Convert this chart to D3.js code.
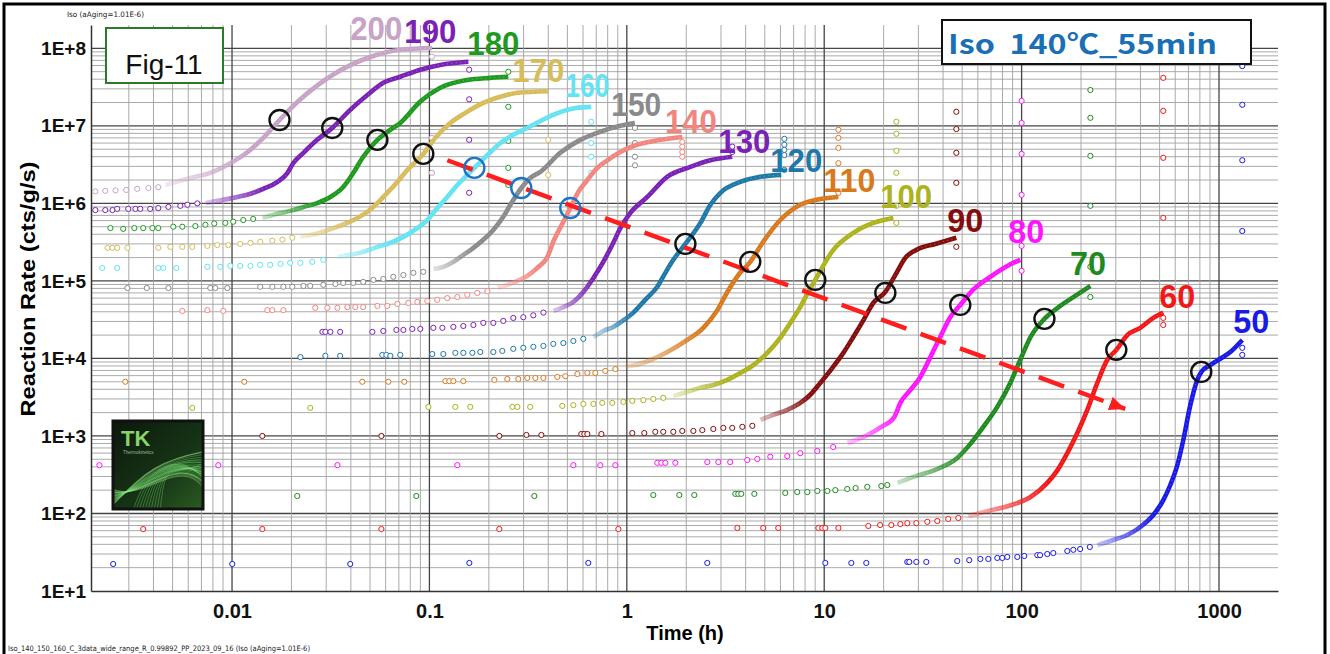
<!DOCTYPE html>
<html>
<head>
<meta charset="utf-8">
<script src="https://cdn.jsdelivr.net/npm/d3@7"></script>
<style>
  body { margin: 0; background: #fff; }
  svg { display: block; font-family: Arial, 'Liberation Sans', sans-serif; }
</style>
</head>
<body>
<svg width="1330" height="654"></svg>
<script>
var svg = d3.select('svg')

// isothermal temperatures (deg C), one curve each
var temps = [200, 190, 180, 170, 160, 150, 140, 130, 120, 110, 100, 90, 80, 70, 60, 50]
var colors = ['#c8a3c8', '#7b22b6', '#1f9a1f', '#d8bc5a', '#63e3f3', '#8a8a8a', '#f2867f', '#7b22b6',
  '#1f78aa', '#d9791d', '#acb31c', '#840d0d', '#ff14ff', '#1f8a1f', '#f21818', '#1a1ae6']

// sparse early points [time h, rate cts/g/s]
var earlyPts = [
  [[0.00203,1.43e6],[0.00228,1.45e6],[0.00257,1.47e6],[0.00291,1.49e6],[0.00331,1.54e6],[0.00377,1.58e6],[0.00423,1.62e6]],
  [[0.00203,8.2e5],[0.00228,8.2e5],[0.00248,8.2e5],[0.00262,8.5e5],[0.00298,8.5e5],[0.00324,8.5e5],[0.00343,8.5e5],[0.00385,8.5e5],[0.00423,8.7e5],[0.00476,9.0e5],[0.00547,9.3e5],[0.00594,9.6e5],[0.00667,1.0e6]],
  [[0.00242,4.8e5],[0.00281,4.69e5],[0.0032,4.8e5],[0.00355,4.8e5],[0.00395,4.8e5],[0.00423,4.8e5],[0.00504,5.0e5],[0.0056,5.0e5],[0.00652,5.1e5],[0.00733,5.3e5],[0.00813,5.5e5],[0.00925,5.6e5],[0.01015,5.8e5],[0.0114,6.1e5],[0.0128,6.3e5]],
  [[0.00234,2.67e5],[0.00248,2.67e5],[0.00262,2.67e5],[0.00295,2.67e5],[0.00423,2.67e5],[0.00487,2.75e5],[0.0056,2.75e5],[0.00629,2.75e5],[0.0075,2.83e5],[0.00842,2.9e5],[0.00958,2.9e5],[0.011,3.0e5],[0.0124,3.1e5],[0.0139,3.2e5],[0.016,3.3e5],[0.018,3.4e5],[0.0202,3.6e5]],
  [[0.0022,1.47e5],[0.00262,1.47e5],[0.00423,1.47e5],[0.00449,1.47e5],[0.00522,1.47e5],[0.0075,1.52e5],[0.00872,1.52e5],[0.0098,1.56e5],[0.011,1.56e5],[0.0124,1.56e5],[0.0139,1.61e5],[0.0156,1.61e5],[0.0176,1.66e5],[0.0197,1.71e5],[0.0222,1.71e5],[0.0255,1.76e5],[0.029,1.87e5]],
  [[0.00295,8.1e4],[0.0037,8.1e4],[0.00476,8.1e4],[0.00776,8.1e4],[0.00823,8.1e4],[0.00947,8.1e4],[0.0139,8.4e4],[0.016,8.4e4],[0.0182,8.4e4],[0.0202,8.4e4],[0.023,8.6e4],[0.0249,8.6e4],[0.029,8.9e4],[0.0334,9.1e4],[0.0366,9.4e4],[0.0412,9.4e4],[0.0462,9.7e4],[0.052,1.03e5],[0.0584,1.06e5],[0.0656,1.13e5],[0.0738,1.19e5],[0.0829,1.27e5],[0.0931,1.31e5]],
  [[0.0056,4.1e4],[0.0075,4.2e4],[0.00903,4.1e4],[0.0151,4.2e4],[0.016,4.2e4],[0.0182,4.2e4],[0.0264,4.5e4],[0.0304,4.5e4],[0.0342,4.5e4],[0.0384,4.6e4],[0.0421,4.6e4],[0.0462,4.6e4],[0.0545,4.75e4],[0.0612,4.75e4],[0.0688,5.05e4],[0.0781,5.2e4],[0.0868,5.36e4],[0.0976,5.5e4],[0.1096,5.7e4],[0.1232,6.0e4],[0.1385,6.2e4],[0.1556,6.6e4],[0.1748,7.0e4],[0.1965,7.4e4]],
  [[0.0287,2.2e4],[0.0297,2.2e4],[0.0315,2.2e4],[0.0353,2.2e4],[0.0514,2.2e4],[0.0584,2.26e4],[0.068,2.33e4],[0.0738,2.33e4],[0.0819,2.4e4],[0.0899,2.4e4],[0.1047,2.48e4],[0.1163,2.48e4],[0.1322,2.55e4],[0.1485,2.62e4],[0.167,2.7e4],[0.1875,2.87e4],[0.2107,2.87e4],[0.2367,3.05e4],[0.266,3.33e4],[0.299,3.4e4],[0.336,3.6e4],[0.378,3.9e4]],
  [[0.0222,1.04e4],[0.0297,1.08e4],[0.0353,1.08e4],[0.0577,1.11e4],[0.0605,1.11e4],[0.0634,1.08e4],[0.0712,1.11e4],[0.1034,1.14e4],[0.1176,1.14e4],[0.1353,1.18e4],[0.1485,1.18e4],[0.165,1.18e4],[0.181,1.21e4],[0.2107,1.21e4],[0.234,1.25e4],[0.266,1.33e4],[0.299,1.37e4],[0.336,1.41e4],[0.378,1.45e4],[0.424,1.54e4],[0.477,1.58e4],[0.536,1.68e4],[0.602,1.79e4]],
  [[0.00288,5.0e3],[0.01154,5.0e3],[0.0457,5.0e3],[0.0619,5.0e3],[0.0746,5.0e3],[0.1204,5.1e3],[0.1261,5.1e3],[0.1322,5.1e3],[0.1485,5.1e3],[0.2132,5.3e3],[0.248,5.43e3],[0.282,5.43e3],[0.313,5.6e3],[0.344,5.6e3],[0.378,5.6e3],[0.4445,5.77e3],[0.488,5.9e3],[0.5615,6.3e3],[0.631,6.5e3],[0.6925,6.5e3],[0.778,6.9e3],[0.8745,7.3e3]],
  [[0.00629,2.3e3],[0.0249,2.3e3],[0.0988,2.37e3],[0.1353,2.37e3],[0.161,2.37e3],[0.263,2.37e3],[0.279,2.37e3],[0.324,2.37e3],[0.471,2.44e3],[0.536,2.5e3],[0.602,2.59e3],[0.677,2.59e3],[0.751,2.67e3],[0.844,2.67e3],[0.96,2.75e3],[1.066,2.83e3],[1.212,2.9e3],[1.362,3.0e3],[1.53,3.1e3]],
  [[0.01424,1.0e3],[0.0571,1.0e3],[0.226,1.0e3],[0.31,1.03e3],[0.369,1.03e3],[0.588,1.06e3],[0.609,1.06e3],[0.631,1.06e3],[0.743,1.06e3],[1.066,1.09e3],[1.226,1.09e3],[1.394,1.13e3],[1.53,1.13e3],[1.72,1.13e3],[1.91,1.16e3],[2.173,1.16e3],[2.413,1.19e3],[2.743,1.23e3],[3.083,1.27e3],[3.42,1.27e3],[3.847,1.31e3],[4.323,1.35e3]],
  [[0.00213,4.2e2],[0.00852,4.2e2],[0.0342,4.2e2],[0.1385,4.2e2],[0.536,4.2e2],[0.734,4.2e2],[0.8745,4.2e2],[1.427,4.5e2],[1.496,4.5e2],[1.567,4.5e2],[1.761,4.5e2],[2.557,4.6e2],[2.908,4.6e2],[3.34,4.6e2],[4.077,4.9e2],[4.583,5.05e2],[5.33,5.4e2],[6.5,5.5e2],[7.56,6.0e2],[9.23,6.4e2],[11.1,7.2e2]],
  [[0.0214,1.68e2],[0.0858,1.68e2],[0.34,1.68e2],[1.362,1.73e2],[1.845,1.73e2],[2.197,1.73e2],[3.545,1.79e2],[3.67,1.79e2],[3.8,1.79e2],[4.426,1.79e2],[6.35,1.84e2],[7.3,1.89e2],[8.21,1.89e2],[9.23,1.95e2],[10.37,1.95e2],[11.38,2.0e2],[13.09,2.07e2],[14.42,2.13e2],[16.53,2.2e2],[19.47,2.26e2],[20.87,2.33e2]],
  [[0.00355,63],[0.01424,63],[0.0571,63],[0.226,63],[0.906,63],[3.63,65],[4.91,65],[5.85,65],[9.34,65],[9.78,65],[10.13,65],[11.8,65],[16.73,69],[19.2,71],[21.88,71],[24.3,73],[26.36,75],[29.28,75],[33.3,78],[37.4,80],[42.5,85],[47.8,87.5]],
  [[0.0025,22.3],[0.01003,22.3],[0.0397,22.3],[0.1593,23],[0.638,23],[2.557,23],[10.13,23],[13.72,23],[16.34,23],[26.36,23.7],[26.98,23.7],[29.28,23.7],[32.9,23.7],[47.2,24.4],[54.3,25],[61.8,25.9],[67.8,25.9],[75.3,26.7],[79.8,26.7],[84.6,27.5],[95.1,27.5],[103.2,28.3],[120.1,29],[124,29],[134.9,30],[144.7,30.9],[170.4,32.8],[182.8,34],[198,34.8],[221.6,37]]
]

// dense part of each curve [time h, rate]
var densePts = [
  [[0.00459,1.73e6],[0.00615,2.13e6],[0.00776,2.48e6],[0.0098,3.3e6],[0.012,4.6e6],[0.0144,7.0e6],[0.0174,1.19e7],[0.0222,2.2e7],[0.0326,4.6e7],[0.0485,7.5e7],[0.0712,9.6e7],[0.103,1.01e8]],
  [[0.00732,1.01e6],[0.00903,1.11e6],[0.01064,1.21e6],[0.0124,1.33e6],[0.0144,1.54e6],[0.017,1.89e6],[0.0191,2.48e6],[0.0204,3.3e6],[0.023,4.49e6],[0.027,6.6e6],[0.0322,9.4e6],[0.0397,1.61e7],[0.0485,2.5e7],[0.0584,3.59e7],[0.0712,4.3e7],[0.0899,5.3e7],[0.1135,6.1e7],[0.1575,6.7e7]],
  [[0.01424,6.5e5],[0.0176,7.5e5],[0.0197,8.0e5],[0.023,9.0e5],[0.027,1.01e6],[0.0315,1.21e6],[0.0366,1.63e6],[0.0412,2.48e6],[0.0462,4.0e6],[0.0545,6.6e6],[0.0634,8.9e6],[0.0712,1.09e7],[0.0899,2.06e7],[0.1135,3.1e7],[0.1556,3.9e7],[0.203,4.16e7],[0.251,4.3e7]],
  [[0.0222,3.7e5],[0.0249,3.9e5],[0.029,4.3e5],[0.0342,5.0e5],[0.0412,6.1e5],[0.0485,7.8e5],[0.0545,1.01e6],[0.0612,1.37e6],[0.0688,1.89e6],[0.0773,2.7e6],[0.0868,3.6e6],[0.0931,4.35e6],[0.1071,7.0e6],[0.1276,1.09e7],[0.152,1.47e7],[0.1875,1.98e7],[0.229,2.37e7],[0.279,2.67e7],[0.40,2.8e7]],
  [[0.0342,2.04e5],[0.0397,2.17e5],[0.0462,2.37e5],[0.0545,2.75e5],[0.0634,3.1e5],[0.0738,3.7e5],[0.0868,4.8e5],[0.0976,6.1e5],[0.1096,8.7e5],[0.1232,1.21e6],[0.1385,1.73e6],[0.1556,2.33e6],[0.1689,2.87e6],[0.1965,4.2e6],[0.229,6.0e6],[0.266,7.7e6],[0.313,9.4e6],[0.424,1.39e7],[0.56,1.71e7],[0.66,1.76e7]],
  [[0.1047,1.43e5],[0.1176,1.52e5],[0.1322,1.76e5],[0.1485,2.17e5],[0.167,2.67e5],[0.1875,3.4e5],[0.2107,4.55e5],[0.2367,6.7e5],[0.257,9.6e5],[0.292,1.58e6],[0.324,2.13e6],[0.365,2.55e6],[0.46,4.49e6],[0.581,6.6e6],[0.734,8.4e6],[0.927,1.0e7],[1.10,1.09e7]],
  [[0.2208,8.1e4],[0.248,8.9e4],[0.279,1.0e5],[0.313,1.16e5],[0.352,1.47e5],[0.396,2.04e5],[0.424,3.2e5],[0.477,5.8e5],[0.517,8.7e5],[0.568,1.41e6],[0.631,2.0e6],[0.709,2.87e6],[0.797,3.6e6],[0.927,4.6e6],[1.079,5.5e6],[1.48,6.6e6],[1.91,7.2e6]],
  [[0.424,4.1e4],[0.477,4.6e4],[0.536,5.36e4],[0.602,7.2e4],[0.677,1.09e5],[0.76,1.76e5],[0.854,3.1e5],[0.927,4.8e5],[1.04,7.5e5],[1.27,1.21e6],[1.60,2.2e6],[2.10,2.96e6],[2.65,3.6e6],[3.42,4.0e6]],
  [[0.677,1.89e4],[0.76,2.26e4],[0.854,2.55e4],[0.96,3.1e4],[1.079,3.9e4],[1.24,5.7e4],[1.427,8.4e4],[1.567,1.27e5],[1.72,1.87e5],[1.98,3.0e5],[2.36,5.6e5],[2.65,9.6e5],[2.98,1.37e6],[3.76,1.89e6],[4.75,2.2e6],[6.06,2.33e6]],
  [[0.983,7.8e3],[1.24,9.0e3],[1.604,1.21e4],[2.025,1.73e4],[2.44,2.48e4],[2.874,4.2e4],[3.23,7.2e4],[3.67,1.19e5],[4.22,1.76e5],[4.91,3.2e5],[5.99,6.1e5],[7.56,9.6e5],[9.55,1.14e6],[11.8,1.21e6]],
  [[1.72,3.28e3],[2.025,3.7e3],[2.36,4.2e3],[2.743,4.55e3],[3.23,5.3e3],[3.76,6.5e3],[4.373,8.2e3],[5.148,1.18e4],[5.99,1.84e4],[6.73,2.87e4],[7.56,4.6e4],[8.31,7.2e4],[9.01,1.03e5],[11.1,2.5e5],[14.04,4.16e5],[17.73,5.6e5],[22.4,6.5e5]],
  [[4.75,1.61e3],[5.52,1.87e3],[6.5,2.17e3],[7.56,2.67e3],[8.5,3.4e3],[9.55,4.83e3],[11.1,7.8e3],[12.5,1.18e4],[14.04,1.89e4],[15.78,3.1e4],[17.73,5.2e4],[20.4,7.2e4],[22.9,1.19e5],[25.76,1.98e5],[30.0,2.59e5],[36.5,3.0e5],[46.7,3.6e5]],
  [[13.09,8.1e2],[15.78,9.7e2],[19.47,1.31e3],[22.65,1.76e3],[24.3,2.67e3],[27.3,3.9e3],[30.7,5.77e3],[34.5,1.04e4],[38.7,1.89e4],[43.5,3.4e4],[48.9,4.9e4],[56.9,7.7e4],[69.4,1.13e5],[84.6,1.56e5],[98.5,1.87e5]],
  [[23.5,2.48e2],[28.3,2.96e2],[37.4,3.75e2],[47.2,5.2e2],[55.0,7.9e2],[64.0,1.31e3],[75.3,2.37e3],[87.6,4.83e3],[98.5,9.6e3],[111,1.89e4],[130.5,3.24e4],[157,4.75e4],[187,6.4e4],[223,8.6e4]],
  [[53.7,93],[67.8,108],[85.6,125],[111,163],[134.9,248],[151.7,360],[170.4,600],[191.5,1.09e3],[215.2,2.17e3],[241.8,4.83e3],[271.8,9.6e3],[301.8,1.29e4],[343.1,2.0e4],[399.3,2.48e4],[464.7,3.33e4],[522.3,3.9e4]],
  [[241.8,39],[291.4,45.5],[343.1,52.8],[399.3,67],[464.7,95.7],[522.3,149],[566.8,233],[615,420],[659.6,890],[715.5,2.5e3],[776.6,5.3e3],[813.4,6.7e3],[903.6,8.2e3],[1015,9.9e3],[1141,1.21e4],[1312,1.73e4]]
]

// scattered points at the last time of each run
var tailTime = [0.103, 0.159, 0.251, 0.40, 0.66, 1.10, 1.91, 3.42, 6.28, 11.8, 23.2, 46.7, 100, 223, 522, 1312]
var tailRates = [
  [7.8e7, 2.75e7, 7.0e6, 2.48e6],
  [5.3e7, 2.2e7, 6.6e6, 1.37e6],
  [4.98e7, 1.76e7, 6.4e6, 2.87e6, 1.73e6],
  [6.6e6, 2.33e6],
  [1.13e7, 6.0e6, 4.0e6, 2.48e6],
  [9.4e6, 6.0e6, 4.0e6, 3.1e6],
  [6.2e6, 5.4e6, 4.6e6, 4.0e6],
  [5.4e6, 4.6e6],
  [6.8e6, 5.7e6, 4.9e6, 4.2e6, 2.7e6],
  [8.9e6, 7.0e6, 5.2e6, 3.3e6, 1.37e6],
  [1.13e7, 7.9e6, 4.75e6, 2.48e6, 9.3e5, 5.6e5],
  [1.52e7, 9.1e6, 4.49e6, 1.84e6, 2.75e5],
  [2.1e7, 1.09e7, 4.35e6, 1.29e6, 2.83e5, 1.35e5],
  [2.9e7, 1.27e7, 4.1e6, 9.3e5, 1.52e5, 6.2e4],
  [4.16e7, 1.56e7, 3.87e6, 6.5e5, 3.33e4, 2.7e4],
  [5.9e7, 1.87e7, 3.6e6, 4.4e5, 1.37e4, 1.11e4]
]

// circled points (null = none), blue ones for 160/150/140
var circled = [[0.0174,1.19e7],[0.0322,9.4e6],[0.0545,6.6e6],[0.0931,4.35e6],[0.1689,2.87e6],[0.292,1.58e6],[0.517,8.7e5],null,
  [1.98,3.0e5],[4.22,1.76e5],[9.01,1.03e5],[20.4,7.0e4],[48.9,4.9e4],[130.5,3.24e4],[301.8,1.29e4],[813,6.7e3]]
var blueCircled = [160, 150, 140]

// where each temperature label sits (left edge, baseline)
var labelAt = [[0.0397,1.29e8],[0.0746,1.18e8],[0.1556,8.2e7],[0.263,3.7e7],[0.488,2.37e7],[0.834,1.35e7],[1.56,8.1e6],[2.908,4.49e6],
  [5.33,2.55e6],[9.9,1.41e6],[19.2,8.7e5],[42.0,4.3e5],[85.6,3.1e5],[176,1.19e5],[498,4.5e4],[1181,2.13e4]]

// dashed trend arrow through the circled points
var trendArrow = [[0.1232, 3.6e6], [335, 2.23e3]]

var xTicks = [0.01, 0.1, 1, 10, 100, 1000]
var yTicks = [1e1, 1e2, 1e3, 1e4, 1e5, 1e6, 1e7, 1e8]

var x = d3.scaleLog().domain([0.00193, 1990]).range([91, 1278])
var y = d3.scaleLog().domain([10, 2e8]).range([591, 25])

var defs = svg.append('defs')

// outer frame
svg.append('rect').attr('x', 4).attr('y', 4).attr('width', 1321).attr('height', 660)
  .attr('fill', 'none').attr('stroke', '#000').attr('stroke-width', 3)

// grid
var grid = svg.append('g')
var xGrid = [], yGrid = []
for (var e = -3; e <= 3; e++) for (var k = 1; k <= 9; k++) xGrid.push({ v: +(k + 'e' + e), major: k === 1 })
for (var e2 = 1; e2 <= 8; e2++) for (var k2 = 1; k2 <= 9; k2++) yGrid.push({ v: +(k2 + 'e' + e2), major: k2 === 1 })
xGrid = xGrid.filter(d => d.v > 0.0021 && d.v < 1900)
yGrid = yGrid.filter(d => d.v > 10 && d.v <= 1e8)

grid.selectAll('.hg').data(yGrid).enter().append('line')
  .attr('x1', 91).attr('x2', 1278)
  .attr('y1', d => y(d.v)).attr('y2', d => y(d.v))
  .attr('stroke', d => d.major ? '#454545' : '#a0a0a0')
  .attr('stroke-width', d => d.major ? 1.3 : 0.9)
grid.selectAll('.vg').data(xGrid).enter().append('line')
  .attr('y1', 25).attr('y2', 591)
  .attr('x1', d => x(d.v)).attr('x2', d => x(d.v))
  .attr('stroke', d => d.major ? '#454545' : '#a0a0a0')
  .attr('stroke-width', d => d.major ? 1.3 : 0.9)

// axes
var xAxis = svg.append('g').attr('transform', 'translate(0,591)')
  .call(d3.axisBottom(x).tickValues(xTicks).tickFormat(d => String(d)).tickSize(0).tickPadding(13))
var yAxis = svg.append('g').attr('transform', 'translate(91,0)')
  .call(d3.axisLeft(y).tickValues(yTicks).tickFormat(d => '1E+' + Math.round(Math.log10(d))).tickSize(0).tickPadding(5))
xAxis.select('.domain').attr('stroke', '#333').attr('stroke-width', 1.5)
yAxis.select('.domain').attr('stroke', '#333').attr('stroke-width', 1.5)
xAxis.selectAll('text').attr('font-size', 20).attr('font-weight', 'bold').attr('font-family', 'Arial, Liberation Sans').attr('fill', '#111')
yAxis.selectAll('text').attr('font-size', 19).attr('font-weight', 'bold').attr('font-family', 'Arial, Liberation Sans').attr('fill', '#111')

svg.append('text').attr('x', 685).attr('y', 640).attr('text-anchor', 'middle')
  .attr('font-size', 20).attr('font-weight', 'bold').text('Time (h)')
svg.append('text').attr('transform', 'translate(35,289) rotate(-90)').attr('text-anchor', 'middle')
  .attr('font-size', 21).attr('font-weight', 'bold').attr('textLength', 255).attr('lengthAdjust', 'spacingAndGlyphs')
  .text('Reaction Rate (cts/g/s)')

// data
var line = d3.line().x(d => x(d[0])).y(d => y(d[1])).curve(d3.curveMonotoneX)
var plot = svg.append('g')

temps.forEach((t, i) => {
  var g = plot.append('g')
  var c = colors[i]
  var dense = densePts[i]
  // soft start of the dense band, like markers crowding together
  var x0 = x(dense[0][0]), x1 = x(dense[Math.min(4, dense.length - 1)][0])
  var grad = defs.append('linearGradient').attr('id', 'fade' + i)
    .attr('gradientUnits', 'userSpaceOnUse').attr('x1', x0).attr('x2', x1).attr('y1', 0).attr('y2', 0)
  grad.append('stop').attr('offset', '0%').attr('stop-color', c).attr('stop-opacity', 0.25)
  grad.append('stop').attr('offset', '100%').attr('stop-color', c).attr('stop-opacity', 1)

  g.selectAll('circle.early').data(earlyPts[i]).enter().append('circle')
    .attr('cx', d => x(d[0])).attr('cy', d => y(d[1])).attr('r', 2.6)
    .attr('fill', '#fff').attr('stroke', c).attr('stroke-width', 1)
  g.selectAll('circle.tail').data(tailRates[i]).enter().append('circle')
    .attr('cx', x(tailTime[i])).attr('cy', d => y(d)).attr('r', 2.6)
    .attr('fill', '#fff').attr('stroke', c).attr('stroke-width', 1)
  g.append('path').attr('d', line(dense))
    .attr('fill', 'none').attr('stroke', 'url(#fade' + i + ')').attr('stroke-width', 4.6)
    .attr('stroke-linecap', 'butt').attr('stroke-linejoin', 'round')
  g.append('path').attr('d', line(dense))
    .attr('fill', 'none').attr('stroke', '#fff').attr('stroke-width', 1)
    .attr('stroke-dasharray', '1 3.5').attr('opacity', 0.35)
})

// temperature labels
plot.selectAll('text.temp').data(temps).enter().append('text')
  .attr('x', (d, i) => x(labelAt[i][0])).attr('y', (d, i) => y(labelAt[i][1]))
  .attr('font-size', 34).attr('font-weight', 'bold')
  .attr('fill', (d, i) => colors[i])
  .attr('textLength', d => d === 160 ? 44 : d === 150 ? 50 : d >= 100 ? 52 : 36).attr('lengthAdjust', 'spacingAndGlyphs')
  .text(d => d)

// trend arrow
defs.append('marker').attr('id', 'ah').attr('markerUnits', 'userSpaceOnUse')
  .attr('markerWidth', 18).attr('markerHeight', 14).attr('refX', 16).attr('refY', 7).attr('orient', 'auto')
  .append('path').attr('d', 'M0,0L16,7L0,14z').attr('fill', '#ff1e1e')
svg.append('line')
  .attr('x1', x(trendArrow[0][0])).attr('y1', y(trendArrow[0][1]))
  .attr('x2', x(trendArrow[1][0])).attr('y2', y(trendArrow[1][1]))
  .attr('stroke', '#ff1e1e').attr('stroke-width', 4.5).attr('stroke-dasharray', '27 15')
  .attr('marker-end', 'url(#ah)')

// circled points
var circ = circled.map((d, i) => d ? { p: d, t: temps[i] } : null).filter(d => d)
svg.selectAll('circle.mark').data(circ).enter().append('circle')
  .attr('cx', d => x(d.p[0])).attr('cy', d => y(d.p[1])).attr('r', 10)
  .attr('fill', 'none').attr('stroke-width', 2.4)
  .attr('stroke', d => blueCircled.indexOf(d.t) >= 0 ? '#1f74c2' : '#111')

// Fig-11 box
svg.append('rect').attr('x', 106).attr('y', 28).attr('width', 117).attr('height', 55)
  .attr('fill', '#fff').attr('stroke', '#2a7a2a').attr('stroke-width', 2)
svg.append('text').attr('x', 164).attr('y', 74).attr('text-anchor', 'middle')
  .attr('font-size', 28).attr('fill', '#111').text('Fig-11')

// condition box
svg.append('rect').attr('x', 942).attr('y', 20).attr('width', 309).attr('height', 44)
  .attr('fill', '#fff').attr('stroke', '#111').attr('stroke-width', 2)
svg.append('text').attr('x', 948).attr('y', 54)
  .attr('font-family', "'Noto Sans CJK JP', 'Noto Sans', sans-serif")
  .attr('font-size', 27).attr('font-weight', 'bold').attr('fill', '#1a6fb5')
  .attr('textLength', 269).attr('lengthAdjust', 'spacingAndGlyphs')
  .attr('xml:space', 'preserve').text('Iso  140℃_55min')

// small captions
svg.append('text').attr('x', 67).attr('y', 17).attr('font-family', 'DejaVu Sans Condensed, DejaVu Sans')
  .attr('font-size', 7.5).attr('fill', '#222').attr('textLength', 77).attr('lengthAdjust', 'spacingAndGlyphs')
  .text('Iso (aAging=1.01E-6)')
svg.append('text').attr('x', 8).attr('y', 651).attr('font-family', 'DejaVu Sans Condensed, DejaVu Sans')
  .attr('font-size', 7.5).attr('fill', '#222').attr('textLength', 302).attr('lengthAdjust', 'spacingAndGlyphs')
  .text('Iso_140_150_160_C_3data_wide_range_R_0.99892_PP_2023_09_16 (Iso (aAging=1.01E-6)')

// TK logo
var lg = defs.append('linearGradient').attr('id', 'tkbg').attr('x1', 0).attr('y1', 0).attr('x2', 1).attr('y2', 1)
lg.append('stop').attr('offset', '0%').attr('stop-color', '#0c180c')
lg.append('stop').attr('offset', '60%').attr('stop-color', '#163516')
lg.append('stop').attr('offset', '100%').attr('stop-color', '#2c5a22')
defs.append('clipPath').attr('id', 'tkclip').append('rect').attr('width', 90).attr('height', 88)
var logo = svg.append('g').attr('transform', 'translate(113,421)')
logo.append('rect').attr('width', 90).attr('height', 88).attr('fill', 'url(#tkbg)')
var sw = logo.append('g').attr('clip-path', 'url(#tkclip)')
for (var s = 0; s < 16; s++) {
  var p = d3.path()
  p.moveTo(-5, 88 - s * 1.5)
  p.bezierCurveTo(30, 55 + s * 2.2, 40 + s * 2, 40 - s, 95, 30 + s * 3)
  sw.append('path').attr('d', p.toString()).attr('fill', 'none')
    .attr('stroke', s % 3 ? '#5fd65f' : '#b8f7a0').attr('stroke-width', s % 4 ? 0.7 : 1.3).attr('opacity', 0.55)
}
for (var s2 = 0; s2 < 10; s2++) {
  var p2 = d3.path()
  p2.moveTo(20 + s2 * 3, 90)
  p2.bezierCurveTo(35 + s2 * 2, 40, 70 - s2 * 2, 30 + s2 * 3, 92, 60 - s2 * 2)
  sw.append('path').attr('d', p2.toString()).attr('fill', 'none')
    .attr('stroke', '#7ee87a').attr('stroke-width', 0.8).attr('opacity', 0.45)
}
logo.append('text').attr('x', 8).attr('y', 25).attr('font-size', 22).attr('font-weight', 'bold')
  .attr('fill', '#8ad36a').text('TK')
logo.append('text').attr('x', 10).attr('y', 33).attr('font-size', 4.5).attr('fill', '#9bb89b').text('Thermokinetics')
logo.append('rect').attr('width', 90).attr('height', 88).attr('fill', 'none').attr('stroke', '#111').attr('stroke-width', 3)
</script>
</body>
</html>
